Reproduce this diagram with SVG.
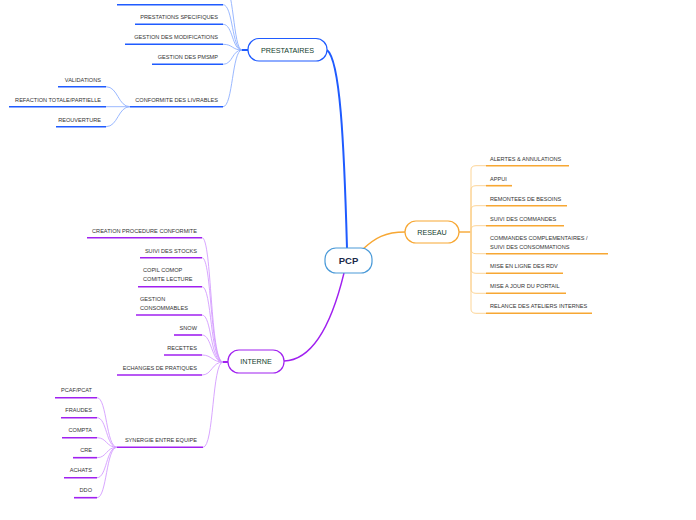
<svg xmlns="http://www.w3.org/2000/svg" width="696" height="520" viewBox="0 0 696 520">
<style>
text{font-family:"Liberation Sans",Arial,sans-serif;}
.t{font-size:5.6px;fill:#333;}
.te{font-size:5.6px;fill:#333;text-anchor:end;}
.nl{font-size:7.2px;fill:#12402e;text-anchor:middle;}
.ub{stroke:#1f5bff;stroke-width:1.6;fill:none;}
.uo{stroke:#f7a733;stroke-width:1.6;fill:none;}
.up{stroke:#a020f0;stroke-width:1.6;fill:none;}
.cb{stroke:#8fb0ff;stroke-width:0.9;fill:none;}
.co{stroke:#fcd08c;stroke-width:0.9;fill:none;}
.cp{stroke:#d49cff;stroke-width:0.9;fill:none;}
</style>
<rect width="696" height="520" fill="#fff"/>
<g id="connectors">
  <path d="M347 248 C344 140 340 60 327 50" stroke="#1f5bff" stroke-width="2" fill="none"/>
  <path d="M363 249 C375 238 385 232 405 232" stroke="#f7a733" stroke-width="1.4" fill="none"/>
  <path d="M344 273 C335 310 318 360 284 361" stroke="#a020f0" stroke-width="1.4" fill="none"/>
  <!-- prestataires -->
  <path d="M242 50 L248 50" stroke="#1f5bff" stroke-width="2"/>
  <path class="cb" d="M242 50 C233 50 234 -18 223 -18"/>
  <path class="cb" d="M242 50 C232 50 233 4.7 223 4.7"/>
  <path class="cb" d="M242 50 C232 50 233 24.3 223 24.3"/>
  <path class="cb" d="M242 50 C232 50 233 44.3 223 44.3"/>
  <path class="cb" d="M242 50 C232 50 233 64.3 223 64.3"/>
  <path class="cb" d="M242 50 C232 50 233 106.7 223 106.7"/>
  <path class="cb" d="M130 106.7 C118 106.7 118 86.7 106 86.7"/>
  <path class="cb" d="M130 106.7 L106 106.7"/>
  <path class="cb" d="M130 106.7 C118 106.7 118 126.7 106 126.7"/>
  <!-- reseau -->
  <path d="M459 232 L471 232" stroke="#f7a733" stroke-width="1.4"/>
  <path class="co" d="M471 232 L471 170 Q471 165.7 476 165.7 L486 165.7"/>
  <path class="co" d="M471 232 L471 190 Q471 185.7 476 185.7 L486 185.7"/>
  <path class="co" d="M471 232 L471 210 Q471 205.7 476 205.7 L486 205.7"/>
  <path class="co" d="M471 232 L471 230 Q471 225.7 476 225.7 L486 225.7"/>
  <path class="co" d="M471 232 L471 249 Q471 253.7 476 253.7 L486 253.7"/>
  <path class="co" d="M471 232 L471 269 Q471 273.3 476 273.3 L486 273.3"/>
  <path class="co" d="M471 232 L471 289 Q471 293.3 476 293.3 L486 293.3"/>
  <path class="co" d="M471 232 L471 309 Q471 313.3 476 313.3 L486 313.3"/>
  <!-- interne -->
  <path d="M223 362 L228 362" stroke="#a020f0" stroke-width="2"/>
  <path class="cp" d="M223 362 C210 362 212 237.7 202 237.7"/>
  <path class="cp" d="M223 362 C210 362 212 257.7 202 257.7"/>
  <path class="cp" d="M223 362 C210 362 212 286.7 202 286.7"/>
  <path class="cp" d="M223 362 C210 362 212 315 202 315"/>
  <path class="cp" d="M223 362 C211 362 212 335 202 335"/>
  <path class="cp" d="M223 362 C212 362 212 355 202 355"/>
  <path class="cp" d="M223 362 C212 362 212 375 202 375"/>
  <path class="cp" d="M223 362 C212 362 214 447.3 203 447.3"/>
  <path class="cp" d="M117 447.3 C106 447.3 107 397.7 97 397.7"/>
  <path class="cp" d="M117 447.3 C106 447.3 107 417.7 97 417.7"/>
  <path class="cp" d="M117 447.3 C106 447.3 107 437.7 97 437.7"/>
  <path class="cp" d="M117 447.3 C106 447.3 107 457.7 97 457.7"/>
  <path class="cp" d="M117 447.3 C106 447.3 107 477.7 97 477.7"/>
  <path class="cp" d="M117 447.3 C106 447.3 107 497.7 97 497.7"/>
</g>
<g id="pcp">
  <rect x="325" y="248" width="47" height="25" rx="11" fill="#fff" stroke="#4a9ad8" stroke-width="1.2"/>
  <text x="348.5" y="264" font-size="9.5" font-weight="bold" fill="#1a2a4a" text-anchor="middle">PCP</text>
</g>
<g id="prestataires">
  <rect x="248" y="38.5" width="79" height="22.5" rx="11" fill="#fff" stroke="#1f5bff" stroke-width="1.2"/>
  <text class="nl" x="287.5" y="52.5">PRESTATAIRES</text>
</g>
<g id="p-top"><path class="ub" d="M117 4.7 L223 4.7"/></g>
<g id="p-spec"><text class="te" x="218" y="19">PRESTATIONS SPECIFIQUES</text><path class="ub" d="M135 24.3 L223 24.3"/></g>
<g id="p-modif"><text class="te" x="218" y="39">GESTION DES MODIFICATIONS</text><path class="ub" d="M125 44.3 L223 44.3"/></g>
<g id="p-pmsmp"><text class="te" x="218" y="59">GESTION DES PMSMP</text><path class="ub" d="M152 64.3 L223 64.3"/></g>
<g id="p-conf"><text class="te" x="218" y="102">CONFORMITE DES LIVRABLES</text><path class="ub" d="M130 106.7 L223 106.7"/></g>
<g id="p-valid"><text class="te" x="101" y="82">VALIDATIONS</text><path class="ub" d="M58 86.7 L106 86.7"/></g>
<g id="p-refac"><text class="te" x="101" y="102">REFACTION TOTALE/PARTIELLE</text><path class="ub" d="M9 106.7 L106 106.7"/></g>
<g id="p-reouv"><text class="te" x="101" y="122">REOUVERTURE</text><path class="ub" d="M56 126.7 L106 126.7"/></g>
<g id="reseau">
  <rect x="405" y="221" width="54" height="22" rx="11" fill="#fff" stroke="#f7a733" stroke-width="1.2"/>
  <text class="nl" x="432" y="234.5">RESEAU</text>
</g>
<g id="r1"><text class="t" x="490" y="160.5">ALERTES &amp; ANNULATIONS</text><path class="uo" d="M486 165.7 L569 165.7"/></g>
<g id="r2"><text class="t" x="490" y="180.5">APPUI</text><path class="uo" d="M486 185.7 L512 185.7"/></g>
<g id="r3"><text class="t" x="490" y="200.5">REMONTEES DE BESOINS</text><path class="uo" d="M486 205.7 L567 205.7"/></g>
<g id="r4"><text class="t" x="490" y="220.5">SUIVI DES COMMANDES</text><path class="uo" d="M486 225.7 L564 225.7"/></g>
<g id="r5"><text class="t" x="490" y="240">COMMANDES COMPLEMENTAIRES /</text><text class="t" x="490" y="248.5">SUIVI DES CONSOMMATIONS</text><path class="uo" d="M486 253.7 L608 253.7"/></g>
<g id="r6"><text class="t" x="490" y="268">MISE EN LIGNE DES RDV</text><path class="uo" d="M486 273.3 L563 273.3"/></g>
<g id="r7"><text class="t" x="490" y="288">MISE A JOUR DU PORTAIL</text><path class="uo" d="M486 293.3 L566 293.3"/></g>
<g id="r8"><text class="t" x="490" y="308">RELANCE DES ATELIERS INTERNES</text><path class="uo" d="M486 313.3 L592 313.3"/></g>
<g id="interne">
  <rect x="228" y="350" width="56" height="23" rx="11" fill="#fff" stroke="#a020f0" stroke-width="1.2"/>
  <text class="nl" x="256" y="364">INTERNE</text>
</g>
<g id="i1"><text class="te" x="197" y="233">CREATION PROCEDURE CONFORMITE</text><path class="up" d="M87 237.7 L202 237.7"/></g>
<g id="i2"><text class="te" x="197" y="253">SUIVI DES STOCKS</text><path class="up" d="M140 257.7 L202 257.7"/></g>
<g id="i3"><text class="t" x="143" y="272">COPIL COMOP</text><text class="t" x="143" y="281">COMITE LECTURE</text><path class="up" d="M138 286.7 L202 286.7"/></g>
<g id="i4"><text class="t" x="140" y="301">GESTION</text><text class="t" x="140" y="310">CONSOMMABLES</text><path class="up" d="M136 315 L202 315"/></g>
<g id="i5"><text class="te" x="197" y="330">SNOW</text><path class="up" d="M174 335 L202 335"/></g>
<g id="i6"><text class="te" x="197" y="350">RECETTES</text><path class="up" d="M164 355 L202 355"/></g>
<g id="i7"><text class="te" x="197" y="370">ECHANGES DE PRATIQUES</text><path class="up" d="M117 375 L202 375"/></g>
<g id="i8"><text class="te" x="197" y="442">SYNERGIE ENTRE EQUIPE</text><path class="up" d="M117 447.3 L203 447.3"/></g>
<g id="s1"><text class="te" x="92" y="392">PCAF/PCAT</text><path class="up" d="M55 397.7 L97 397.7"/></g>
<g id="s2"><text class="te" x="92" y="412">FRAUDES</text><path class="up" d="M61 417.7 L97 417.7"/></g>
<g id="s3"><text class="te" x="92" y="432">COMPTA</text><path class="up" d="M62 437.7 L97 437.7"/></g>
<g id="s4"><text class="te" x="92" y="452">CRE</text><path class="up" d="M73 457.7 L97 457.7"/></g>
<g id="s5"><text class="te" x="92" y="472">ACHATS</text><path class="up" d="M64 477.7 L97 477.7"/></g>
<g id="s6"><text class="te" x="92" y="492">DDO</text><path class="up" d="M74 497.7 L97 497.7"/></g>
</svg>
